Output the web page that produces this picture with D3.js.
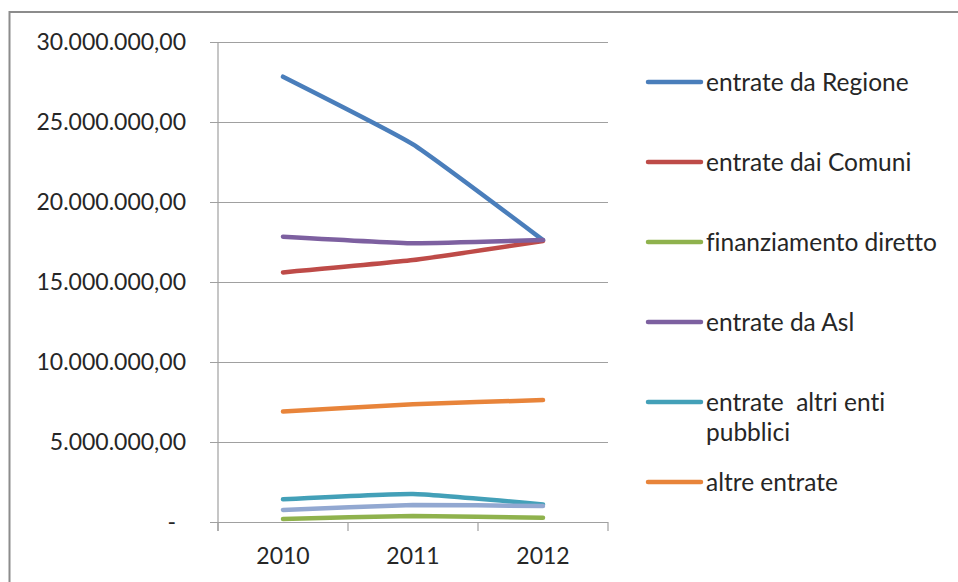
<!DOCTYPE html>
<html>
<head>
<meta charset="utf-8">
<script src="https://cdn.jsdelivr.net/npm/d3@7"></script>
<style>
  html, body { margin: 0; padding: 0; background: #fff; }
  svg { display: block; }
  text { font-family: Lato, "Open Sans", sans-serif; fill: #262626; font-variant-ligatures: none; }
</style>
</head>
<body>
<svg id="chart" width="958" height="582"></svg>
<script>
// Anni sull'asse delle categorie
const years = ["2010", "2011", "2012"];

// Valori in euro per ciascuna voce di entrata
const entrateRegione = [27830000, 23600000, 17620000];
const entrateComuni = [15600000, 16370000, 17560000];
const finanziamentoDiretto = [190000, 375000, 270000];
const entrateAsl = [17830000, 17420000, 17620000];
const entrateAltriEnti = [1420000, 1750000, 1100000];
const altreEntrate = [6900000, 7360000, 7620000];
const altraVoce = [750000, 1060000, 1000000];

// Etichette della legenda
const legendLabels = [
  ["entrate da Regione"],
  ["entrate dai Comuni"],
  ["finanziamento diretto"],
  ["entrate da Asl"],
  ["entrate  altri enti", "pubblici"],
  ["altre entrate"]
];

// Tacche dell'asse dei valori
const yTicks = [0, 5000000, 10000000, 15000000, 20000000, 25000000, 30000000];

const series = [
  { values: entrateRegione, color: "#4A7EBB", legend: 0 },
  { values: entrateComuni, color: "#BE4B48", legend: 1 },
  { values: finanziamentoDiretto, color: "#8FB24D", legend: 2 },
  { values: entrateAsl, color: "#7D60A0", legend: 3 },
  { values: entrateAltriEnti, color: "#43A0B8", legend: 4 },
  { values: altreEntrate, color: "#E8843A", legend: 5 },
  { values: altraVoce, color: "#92A8D1", legend: null }
];

const svg = d3.select("#chart");

// Cornice dell'area del grafico
svg.append("path")
  .attr("d", "M9.5,582 L9.5,12 L958,12")
  .attr("fill", "none")
  .attr("stroke", "#8C8C8C")
  .attr("stroke-width", 2);

const plotLeft = 218, plotRight = 608, plotTop = 42, plotBottom = 522;

const x = d3.scalePoint().domain(years).range([plotLeft, plotRight]).padding(0.5);
const y = d3.scaleLinear().domain([0, 30000000]).range([plotBottom, plotTop]);

// Formato italiano: punto per le migliaia, virgola per i decimali
const itLocale = d3.formatLocale({ decimal: ",", thousands: ".", grouping: [3], currency: ["€", ""] });
const fmt = itLocale.format(",.2f");

// Griglia orizzontale e asse dei valori
const yAxis = d3.axisLeft(y)
  .tickValues(yTicks)
  .tickSize(-(plotRight - plotLeft))
  .tickSizeOuter(0)
  .tickPadding(24)
  .tickFormat(d => d === 0 ? "-" : fmt(d));

const gy = svg.append("g")
  .attr("transform", `translate(${plotLeft},0)`)
  .call(yAxis);
gy.select(".domain").remove();
gy.selectAll(".tick line")
  .attr("x1", -8)
  .attr("stroke", "#A0A0A0")
  .attr("stroke-width", 1.2);
gy.selectAll(".tick text")
  .attr("x", -32)
  .style("font-size", "23px")
  .attr("fill", "#262626");
gy.selectAll(".tick text").filter(d => d === 0).attr("x", -42);

// Linea verticale dell'asse
svg.append("line")
  .attr("x1", plotLeft).attr("x2", plotLeft)
  .attr("y1", plotTop).attr("y2", plotBottom + 9)
  .attr("stroke", "#A0A0A0").attr("stroke-width", 1.2);

// Asse delle categorie con tacche tra gli anni
const band = (plotRight - plotLeft) / years.length;
const xBoundaries = d3.range(years.length + 1).map(i => plotLeft + i * band);
svg.append("g").selectAll("line")
  .data(xBoundaries)
  .join("line")
  .attr("x1", d => d).attr("x2", d => d)
  .attr("y1", plotBottom).attr("y2", plotBottom + 9)
  .attr("stroke", "#A0A0A0").attr("stroke-width", 1.2);

svg.append("g").selectAll("text")
  .data(years)
  .join("text")
  .attr("x", d => x(d))
  .attr("y", 564)
  .attr("text-anchor", "middle")
  .style("font-size", "23px")
  .text(d => d);

// Linee delle serie, con lieve arrotondamento nei punti intermedi
const line = d3.line()
  .x((d, i) => x(years[i]))
  .y(d => y(d))
  .curve(d3.curveCardinal.tension(0.6));

svg.append("g").selectAll("path")
  .data(series)
  .join("path")
  .attr("d", d => line(d.values))
  .attr("fill", "none")
  .attr("stroke", d => d.color)
  .attr("stroke-width", 4.5)
  .attr("stroke-linecap", "round")
  .attr("stroke-linejoin", "round");

// Legenda
const legendTop = 82, legendStep = 80;
const legend = svg.append("g");
series.filter(s => s.legend !== null).forEach(s => {
  const ly = legendTop + s.legend * legendStep;
  legend.append("line")
    .attr("x1", 648).attr("x2", 701)
    .attr("y1", ly).attr("y2", ly)
    .attr("stroke", s.color)
    .attr("stroke-width", 4.5)
    .attr("stroke-linecap", "round");
  legendLabels[s.legend].forEach((txt, k) => {
    legend.append("text")
      .attr("x", 706)
      .attr("y", ly + k * 30)
      .attr("dy", "0.36em")
      .style("font-size", "24.5px")
      .style("white-space", "pre")
      .text(txt);
  });
});
</script>
</body>
</html>
